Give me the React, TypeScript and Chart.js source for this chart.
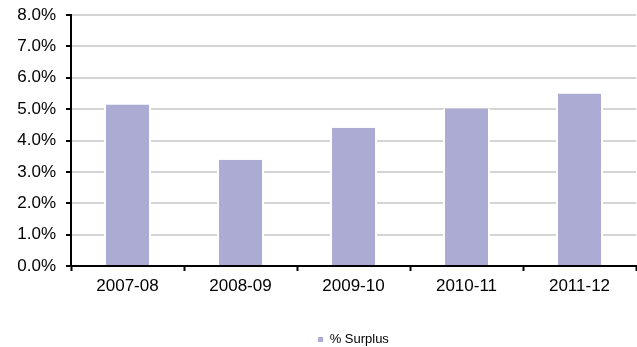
import React, { useEffect, useRef } from "react";
import { Chart, registerables } from "chart.js";

Chart.register(...registerables);

// Fiscal years and surplus share (%)
const years: string[] = ["2007-08", "2008-09", "2009-10", "2010-11", "2011-12"];
const surplusPct: number[] = [5.15, 3.39, 4.41, 5.02, 5.5];
const seriesLabel = "% Surplus";
const yMin = 0;
const yMax = 8;
const yStep = 1;

const barColor = "#ABABD3";
const fontFamily = "'Liberation Sans', Arial, sans-serif";

export default function App() {
  const canvasRef = useRef<HTMLCanvasElement | null>(null);

  useEffect(() => {
    const canvas = canvasRef.current;
    if (!canvas) return;
    const chart = new Chart(canvas, {
      type: "bar",
      data: {
        labels: years,
        datasets: [
          {
            label: seriesLabel,
            data: surplusPct,
            backgroundColor: barColor,
            borderColor: "#ffffff",
            borderWidth: { left: 2, right: 2, top: 0, bottom: 0 },
            borderSkipped: false,
            barPercentage: 0.416,
            categoryPercentage: 1,
          },
        ],
      },
      options: {
        animation: false,
        responsive: false,
        maintainAspectRatio: false,
        color: "#000",
        layout: { padding: { top: 15, right: 1, left: 0, bottom: -9 } },
        plugins: {
          tooltip: { enabled: false },
          legend: {
            position: "bottom",
            fullSize: false,
            labels: {
              boxWidth: 5,
              boxHeight: 5,
              padding: 2,
              color: "#000",
              font: { family: fontFamily, size: 13 },
              generateLabels: (c: any) => {
                const items = Chart.defaults.plugins.legend.labels.generateLabels(c);
                return items.map((it: any) => ({
                  ...it,
                  fillStyle: barColor,
                  strokeStyle: barColor,
                  lineWidth: 0,
                }));
              },
            },
          },
        },
        scales: {
          x: {
            z: 1,
            grid: {
              drawOnChartArea: false,
              drawTicks: true,
              tickLength: 5,
              tickColor: "#000",
              tickWidth: 2,
              offset: true,
            },
            border: { color: "#000", width: 2 },
            ticks: {
              color: "#000",
              padding: 5,
              maxRotation: 0,
              font: { family: fontFamily, size: 17 },
            },
            afterFit: (s: any) => {
              s.height = 65;
            },
          },
          y: {
            min: yMin,
            max: yMax,
            grid: {
              color: "#d4d4d4",
              lineWidth: 2,
              drawTicks: true,
              tickLength: 5,
              tickColor: "#000",
              tickWidth: 2,
            },
            border: { color: "#000", width: 2 },
            ticks: {
              stepSize: yStep,
              color: "#000",
              padding: 10,
              font: { family: fontFamily, size: 17 },
              callback: (v: any) => Number(v).toFixed(1) + "%",
            },
            afterFit: (s: any) => {
              s.width = 71;
              s.paddingTop = 0;
              s.paddingBottom = 0;
            },
          },
        },
      },
    });
    return () => chart.destroy();
  }, []);

  return (
    <div style={{ position: "fixed", left: 0, top: 0, width: 637, height: 347, background: "#fff" }}>
      <canvas ref={canvasRef} width={637} height={347} style={{ width: 637, height: 347 }} />
    </div>
  );
}
